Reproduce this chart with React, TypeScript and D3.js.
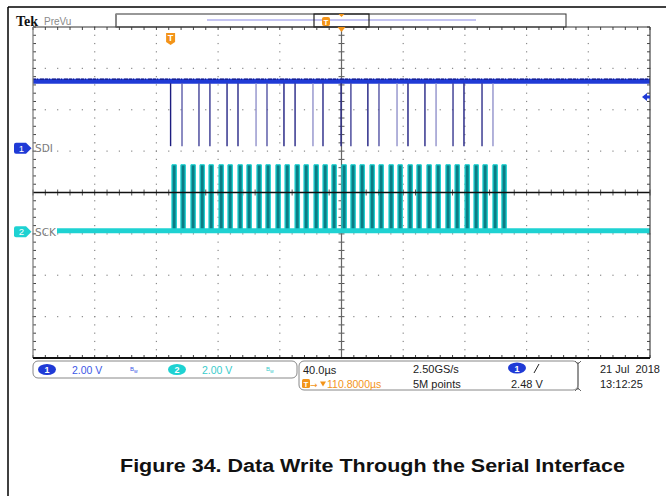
import React from 'react';
import * as d3 from 'd3';

const W = 666;
const H = 496;

// horizontal: 40 µs/div, trigger point (t = 0) is 110.8 µs left of centre
const timeDomain: [number, number] = [-89.2, 310.8];
const divisionsX = 10;
const divisionsY = 8;
const voltsPerDiv = 2.0;

// channel 1 (SDI) and channel 2 (SCK) ground positions, in divisions from centre
const ch1Offset = 1.07;
const ch2Offset = -0.95;

// SDI: logic levels and the short low-going pulses (µs after trigger)
const sdiHigh = 3.24;
const sdiLow = 0.1;
const sdiPulseTimes = [
  0.0, 7.4, 18.4, 25.5, 36.6, 43.7, 55.4, 62.5, 73.5, 80.7, 92.3, 98.8,
  110.5, 116.9, 127.9, 135.1, 146.8, 153.9, 164.9, 172.1, 183.1, 190.2, 201.9, 209.0,
];
// persistence intensity of each SDI pulse, 0 = faint, 1 = solid
const sdiPulseIntensity = [
  0.95, 0.6, 0.75, 0.8, 0.9, 0.9, 0.3, 0.65, 0.95, 0.9, 0.3, 0.9,
  0.9, 0.75, 0.95, 0.65, 0.3, 0.95, 0.9, 0.3, 0.8, 0.95, 0.85, 0.3,
];

// SCK: clock pulses (rising edge, µs after trigger)
const sckHigh = 3.24;
const sckLow = 0.05;
const sckPulseWidth = 2.8;
const sckRiseTimes = [
  0.9, 6.7, 13.2, 19.1, 24.9, 31.4, 37.2, 43.7, 49.5, 56.0, 61.8, 68.3,
  74.2, 80.7, 86.5, 93.0, 98.8, 104.6, 111.1, 116.9, 122.8, 129.3, 135.1, 141.6,
  147.4, 153.9, 159.7, 166.2, 172.1, 178.5, 184.4, 190.9, 196.7, 202.5, 209.0, 214.8,
];

// trigger level on channel 1
const triggerLevel = 2.48;

// readout texts
const ch1Scale = '2.00 V';
const ch2Scale = '2.00 V';
const timeScale = '40.0µs';
const triggerDelay = '110.8000µs';
const sampleRate = '2.50GS/s';
const recordLength = '5M points';
const triggerReadout = '2.48 V';
const dateText = '21 Jul  2018';
const timeText = '13:12:25';
const caption = 'Figure 34. Data Write Through the Serial Interface';

const plot = { left: 33, right: 650, top: 27, bottom: 358 };

const BLUE = '#1f3ad6';
const CYAN = '#1ed2d2';
const ORANGE = '#f39419';
const FONT = 'Liberation Sans, Arial, sans-serif';

const App: React.FC = () => {
  const x = d3.scaleLinear().domain(timeDomain).range([plot.left, plot.right]);
  const xDiv = d3.scaleLinear().domain([0, divisionsX]).range([plot.left, plot.right]);
  const yDiv = d3
    .scaleLinear()
    .domain([-divisionsY / 2, divisionsY / 2])
    .range([plot.bottom, plot.top]);
  const y1 = (v: number) => yDiv(ch1Offset + v / voltsPerDiv);
  const y2 = (v: number) => yDiv(ch2Offset + v / voltsPerDiv);
  const shade = d3.interpolateRgb('#c6c6ee', '#14147a');

  const minorX = d3.range(0, divisionsX * 5 + 1).map((i) => xDiv(i / 5));
  const minorY = d3.range(-divisionsY * 5 / 2, divisionsY * 5 / 2 + 1).map((i) => yDiv(i / 5));
  const cx = xDiv(divisionsX / 2);
  const cy = yDiv(0);

  // dotted graticule
  const dots: JSX.Element[] = [];
  d3.range(-3, 4).forEach((d) => {
    if (d === 0) return;
    minorX.forEach((px, i) =>
      dots.push(<rect key={`h${d}-${i}`} x={px - 0.6} y={yDiv(d) - 0.6} width={1.2} height={1.2} fill="#8a8a8a" />)
    );
  });
  d3.range(1, divisionsX).forEach((d) => {
    if (d === divisionsX / 2) return;
    minorY.forEach((py, i) =>
      dots.push(<rect key={`v${d}-${i}`} x={xDiv(d) - 0.6} y={py - 0.6} width={1.2} height={1.2} fill="#8a8a8a" />)
    );
  });

  const sdiLine = d3.line<number>()([[plot.left, y1(sdiHigh)], [plot.right, y1(sdiHigh)]] as any);
  const sckStart = 57;

  return (
    <svg width={W} height={H} style={{ position: 'absolute', left: 0, top: 0, background: '#fff' }}>
      {/* page frame */}
      <line x1={8} y1={7} x2={W} y2={7} stroke="#000" strokeWidth={1.5} />
      <line x1={8} y1={7} x2={8} y2={H} stroke="#000" strokeWidth={1.5} />

      {/* header */}
      <text x={16} y={26} fontFamily="Liberation Serif, serif" fontWeight="bold" fontSize={14} fill="#111">Tek</text>
      <text x={44} y={25} fontFamily={FONT} fontSize={10} fill="#8a8a8a">PreVu</text>
      <rect x={116} y={14} width={450} height={13} fill="#fff" stroke="#333" strokeWidth={1} />
      <line x1={116} y1={14} x2={116} y2={27} stroke="#888" strokeWidth={2} />
      <line x1={207} y1={20} x2={476} y2={20} stroke="#c4c4f2" strokeWidth={2} />
      <rect x={314} y={14} width={55} height={13} fill="none" stroke="#222" strokeWidth={1.2} />
      <rect x={322} y={17} width={8} height={9} rx={2} fill={ORANGE} />
      <text x={326} y={25} textAnchor="middle" fontFamily={FONT} fontWeight="bold" fontSize={8} fill="#fff">T</text>
      <path d={`M${cx - 3},14 L${cx + 3},14 L${cx},17 Z`} fill={ORANGE} />

      {/* graticule */}
      {dots}
      {minorX.map((px, i) => (
        <g key={`tx${i}`}>
          <line x1={px} y1={plot.top} x2={px} y2={plot.top + 3} stroke="#444" strokeWidth={1} />
          <line x1={px} y1={plot.bottom} x2={px} y2={plot.bottom - 3} stroke="#444" strokeWidth={1} />
          <line x1={px} y1={cy - 3} x2={px} y2={cy + 3} stroke="#555" strokeWidth={1} />
        </g>
      ))}
      {minorY.map((py, i) => (
        <g key={`ty${i}`}>
          <line x1={plot.left} y1={py} x2={plot.left + 3} y2={py} stroke="#444" strokeWidth={1} />
          <line x1={plot.right} y1={py} x2={plot.right - 3} y2={py} stroke="#444" strokeWidth={1} />
          <line x1={cx - 3} y1={py} x2={cx + 3} y2={py} stroke="#555" strokeWidth={1} />
        </g>
      ))}
      <line x1={cx} y1={plot.top} x2={cx} y2={plot.bottom} stroke="#666" strokeWidth={1.2} />

      {/* SDI (channel 1) */}
      <path d={sdiLine ?? ''} stroke={BLUE} strokeWidth={5} fill="none" />
      <line x1={plot.left} y1={y1(sdiHigh) - 2} x2={plot.right} y2={y1(sdiHigh) - 2}
        stroke="#1a2390" strokeWidth={1.5} strokeDasharray="3 1 1 2 4 1" />
      {sdiPulseTimes.map((t, i) => (
        <line key={`sdi${i}`} x1={x(t)} x2={x(t)} y1={y1(sdiHigh) + 2} y2={y1(sdiLow)}
          stroke={shade(sdiPulseIntensity[i])} strokeWidth={1.4} />
      ))}

      {/* SCK (channel 2) */}
      {sckRiseTimes.map((t, i) => {
        const x0 = x(t);
        const x1 = x(t + sckPulseWidth);
        return (
          <g key={`sck${i}`}>
            <rect x={x0} y={y2(sckHigh)} width={x1 - x0} height={y2(sckLow) - y2(sckHigh)} fill="#0b7c84" />
            <line x1={x0} x2={x0} y1={y2(sckHigh)} y2={y2(sckLow)} stroke={CYAN} strokeWidth={1.3} />
            <line x1={x1} x2={x1} y1={y2(sckHigh)} y2={y2(sckLow)} stroke={CYAN} strokeWidth={1.3} />
            <line x1={x0} x2={x1} y1={y2(sckHigh)} y2={y2(sckHigh)} stroke={CYAN} strokeWidth={1.2} />
          </g>
        );
      })}
      <line x1={sckStart} x2={plot.right} y1={y2(sckLow)} y2={y2(sckLow)} stroke={CYAN} strokeWidth={5} />

      {/* centre horizontal line and plot border drawn on top */}
      <line x1={plot.left} y1={cy} x2={plot.right} y2={cy} stroke="#111" strokeWidth={1.5} />
      <line x1={plot.left} y1={plot.top} x2={plot.right} y2={plot.top} stroke="#333" strokeWidth={1.2} />
      <line x1={plot.left} y1={plot.top} x2={plot.left} y2={plot.bottom} stroke="#777" strokeWidth={1.2} />
      <line x1={plot.right} y1={plot.top} x2={plot.right} y2={plot.bottom} stroke="#444" strokeWidth={1.2} />
      <line x1={plot.left} y1={plot.bottom} x2={plot.right} y2={plot.bottom} stroke="#111" strokeWidth={2} />

      {/* trigger markers */}
      <path d={`M${cx - 4},${plot.top} L${cx + 4},${plot.top} L${cx},${plot.top + 5} Z`} fill={ORANGE} />
      <path d={`M${x(0) - 4.5},33 h9 v9 l-4.5,3 l-4.5,-3 Z`} fill={ORANGE} />
      <text x={x(0)} y={41} textAnchor="middle" fontFamily={FONT} fontWeight="bold" fontSize={9} fill="#fff">T</text>
      <path d={`M${plot.right - 8},${y1(triggerLevel)} l5,-4 v2.5 h3 v3 h-3 v2.5 Z`} fill={BLUE} />

      {/* channel markers and labels */}
      <path d={`M16,${y1(0) - 5.5} h10 l5.5,5.5 l-5.5,5.5 h-10 q-2,0 -2,-2 v-7 q0,-2 2,-2 Z`} fill={BLUE} />
      <text x={21.5} y={y1(0) + 3.5} textAnchor="middle" fontFamily={FONT} fontSize={9.5} fill="#fff">1</text>
      <text x={35} y={y1(0) + 4} fontFamily="DejaVu Sans, sans-serif" fontSize={10.5} fill="#7a7a7a">SDI</text>
      <path d={`M16,${y2(0) - 5.5} h10 l5.5,5.5 l-5.5,5.5 h-10 q-2,0 -2,-2 v-7 q0,-2 2,-2 Z`} fill={CYAN} />
      <text x={21.5} y={y2(0) + 3.5} textAnchor="middle" fontFamily={FONT} fontSize={9.5} fill="#fff">2</text>
      <text x={35} y={y2(0) + 4} fontFamily="DejaVu Sans, sans-serif" fontSize={10.5} fill="#7a7a7a">SCK</text>

      {/* readout: channel panel */}
      <rect x={33} y={361} width={264} height={17} rx={5} fill="#fff" stroke="#888" strokeWidth={1} />
      <ellipse cx={47} cy={369.5} rx={9} ry={5.5} fill={BLUE} />
      <text x={47} y={373} textAnchor="middle" fontFamily={FONT} fontWeight="bold" fontSize={9} fill="#fff">1</text>
      <text x={72} y={374} fontFamily={FONT} fontSize={10.5} fill="#3c58e6">{ch1Scale}</text>
      <text x={130} y={371} fontFamily={FONT} fontSize={6} fill="#3c58e6">B</text>
      <text x={134} y={373} fontFamily={FONT} fontSize={5} fill="#3c58e6">w</text>
      <ellipse cx={177} cy={369.5} rx={9} ry={5.5} fill={CYAN} />
      <text x={177} y={373} textAnchor="middle" fontFamily={FONT} fontWeight="bold" fontSize={9} fill="#fff">2</text>
      <text x={202} y={374} fontFamily={FONT} fontSize={10.5} fill="#38cccc">{ch2Scale}</text>
      <text x={266} y={371} fontFamily={FONT} fontSize={6} fill="#38cccc">B</text>
      <text x={270} y={373} fontFamily={FONT} fontSize={5} fill="#38cccc">w</text>

      {/* readout: horizontal / trigger panel */}
      <rect x={299} y={361} width={279} height={29} rx={5} fill="#fff" stroke="#888" strokeWidth={1} />
      <text x={303} y={374} fontFamily={FONT} fontSize={11} fill="#222">{timeScale}</text>
      <rect x={302} y={379} width={8} height={9} rx={1.5} fill={ORANGE} />
      <text x={306} y={387} textAnchor="middle" fontFamily={FONT} fontWeight="bold" fontSize={8} fill="#fff">T</text>
      <text x={310} y={388} fontFamily="DejaVu Sans, sans-serif" fontSize={9} fill={ORANGE}>→</text>
      <path d="M320,381.5 h6 l-3,5 Z" fill={ORANGE} />
      <text x={327} y={388} fontFamily={FONT} fontSize={10.5} fill={ORANGE}>{triggerDelay}</text>
      <text x={413} y={373} fontFamily={FONT} fontSize={11} fill="#222">{sampleRate}</text>
      <text x={413} y={388} fontFamily={FONT} fontSize={11} fill="#222">{recordLength}</text>
      <ellipse cx={517} cy={368} rx={9} ry={5.5} fill={BLUE} />
      <text x={517} y={371.5} textAnchor="middle" fontFamily={FONT} fontWeight="bold" fontSize={9} fill="#fff">1</text>
      <line x1={534} y1={373} x2={539} y2={364} stroke="#222" strokeWidth={1} />
      <text x={511} y={388} fontFamily={FONT} fontSize={11} fill="#222">{triggerReadout}</text>

      {/* readout: date */}
      <line x1={578} y1={362} x2={578} y2={390} stroke="#666" strokeWidth={1} />
      <path d="M575,361 l3,3 l3,-3 M575,391 l3,-3 l3,3" fill="none" stroke="#666" strokeWidth={1} />
      <text x={600} y={373} fontFamily={FONT} fontSize={11} fill="#222" xmlSpace="preserve">{dateText}</text>
      <text x={600} y={388} fontFamily={FONT} fontSize={11} fill="#222">{timeText}</text>

      {/* caption */}
      <text x={120} y={472} fontFamily={FONT} fontWeight="bold" fontSize={18} fill="#111"
        textLength={505} lengthAdjust="spacingAndGlyphs">{caption}</text>
    </svg>
  );
};

export default App;
